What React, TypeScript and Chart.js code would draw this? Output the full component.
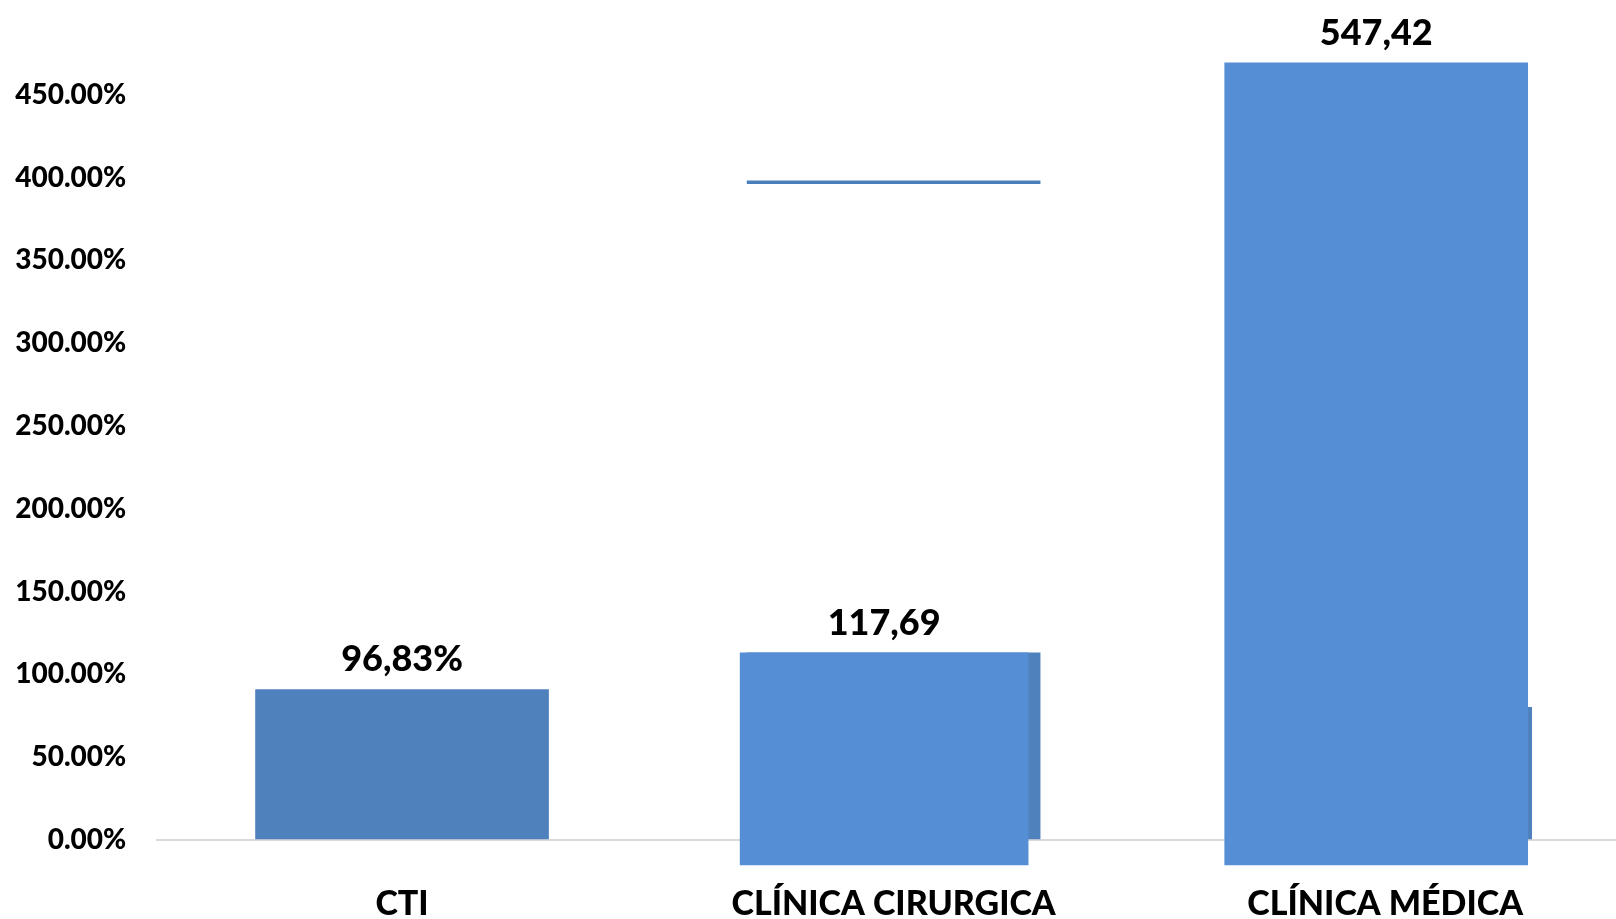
import React, { useEffect, useRef } from 'react';
import { Chart, registerables } from 'chart.js';

Chart.register(...registerables);

const categories = ['CTI', 'CLÍNICA CIRURGICA', 'CLÍNICA MÉDICA'];
const baseValues = [90.9, 113.1, 80.1];
const cirurgicaRange = [-15.1, 113.1];
const medicaRange = [-15.1, 469.3];
const markerRange = [396.3, 398.1];
const dataLabels = ['96,83%', '117,69', '547,42'];
const yTickValues = [0, 50, 100, 150, 200, 250, 300, 350, 400, 450];

const FONT = 'Lato, "Open Sans", sans-serif';
const WEIGHT = 900;

const shiftPlugin = {
  id: 'shiftPlugin',
  beforeDatasetDraw(chart: any, args: any) {
    const ds: any = chart.data.datasets[args.index];
    chart.ctx.save();
    if (ds.shiftX) chart.ctx.translate(ds.shiftX, 0);
  },
  afterDatasetDraw(chart: any) {
    chart.ctx.restore();
  },
};

const labelPlugin = {
  id: 'labelPlugin',
  afterDatasetsDraw(chart: any) {
    const ctx = chart.ctx;
    ctx.save();
    ctx.fillStyle = '#000';
    ctx.font = `${WEIGHT} 36px ${FONT}`;
    ctx.textAlign = 'center';
    ctx.textBaseline = 'alphabetic';
    dataLabels.forEach((txt, i) => {
      let best: any = null;
      chart.data.datasets.forEach((ds: any, di: number) => {
        if (ds.skipLabel) return;
        const meta = chart.getDatasetMeta(di);
        const el = meta.data[i];
        const raw = ds.data[i];
        if (!el || raw === null || raw === undefined) return;
        const x = el.x + (ds.shiftX || 0);
        if (!best || el.y <= best.y) best = { x, y: el.y };
      });
      if (best) ctx.fillText(txt, best.x, best.y - 18);
    });
    ctx.restore();
  },
};

export default function App() {
  const ref = useRef<HTMLCanvasElement | null>(null);
  useEffect(() => {
    if (!ref.current) return;
    document.body.style.overflow = 'hidden';
    const chart = new Chart(ref.current, {
      type: 'bar',
      data: {
        labels: categories,
        datasets: [
          {
            label: 'Base',
            data: baseValues,
            backgroundColor: '#4f81bd',
            barThickness: 293,
            grouped: false,
            order: 3,
            clip: false,
          } as any,
          {
            label: 'Marker',
            data: [null, markerRange, null],
            backgroundColor: '#4a7ebb',
            barThickness: 293,
            grouped: false,
            order: 2,
            clip: false,
            skipLabel: true,
          } as any,
          {
            label: 'Cirurgica',
            data: [null, cirurgicaRange, null],
            backgroundColor: '#558ed5',
            barThickness: 288,
            grouped: false,
            order: 1,
            clip: false,
            shiftX: -9.5,
          } as any,
          {
            label: 'Medica',
            data: [null, null, medicaRange],
            backgroundColor: '#558ed5',
            barThickness: 303,
            grouped: false,
            order: 1,
            clip: false,
            shiftX: -9,
          } as any,
        ],
      },
      options: {
        animation: false,
        responsive: true,
        maintainAspectRatio: false,
        layout: { padding: { top: 94.8, left: 0, right: 0, bottom: 0 } },
        plugins: {
          legend: { display: false },
          tooltip: { enabled: false },
        },
        scales: {
          x: {
            grid: { display: false, drawTicks: false },
            border: { display: false },
            ticks: {
              color: '#000',
              font: { family: FONT, size: 34, weight: WEIGHT },
              padding: 44,
              maxRotation: 0,
              autoSkip: false,
            },
            afterFit(scale: any) {
              scale.height = 79;
            },
          },
          y: {
            min: 0,
            max: 450,
            grid: {
              drawTicks: false,
              color: (c: any) => (c.tick && c.tick.value === 0 ? '#d9d9d9' : 'rgba(0,0,0,0)'),
              lineWidth: 2,
            },
            border: { display: false },
            afterBuildTicks(scale: any) {
              scale.ticks = yTickValues.map((v) => ({ value: v }));
            },
            ticks: {
              color: '#000',
              font: { family: FONT, size: 28, weight: WEIGHT },
              padding: 30,
              callback: (v: any) => `${Number(v).toFixed(2)}%`,
            },
            afterFit(scale: any) {
              scale.width = 156.25;
            },
          },
        },
      } as any,
      plugins: [shiftPlugin, labelPlugin],
    });
    return () => chart.destroy();
  }, []);

  return (
    <div style={{ position: 'fixed', left: 0, top: 0, width: 1631, height: 919, background: '#fff' }}>
      <canvas ref={ref} />
    </div>
  );
}
